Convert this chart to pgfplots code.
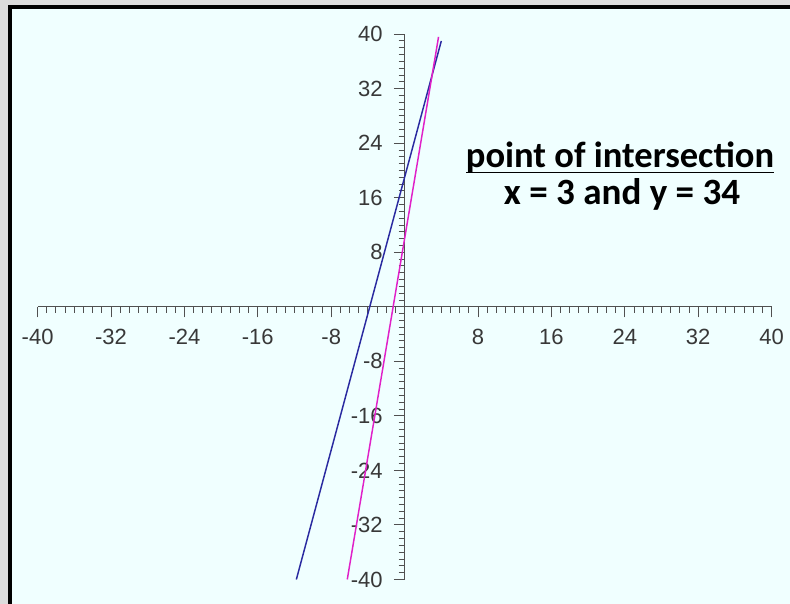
\documentclass[border=0pt]{standalone}
\usepackage{pgfplots}
\pgfplotsset{compat=1.18}
\usepackage{fontspec}
\setmainfont{Liberation Sans}
\newfontfamily\notefont{Carlito}
\definecolor{bgpanel}{HTML}{F0FFFF}
\definecolor{outer}{HTML}{DCDCDC}
\definecolor{axisgray}{HTML}{505050}
\definecolor{labelgray}{HTML}{383838}
\definecolor{lineblue}{HTML}{2A2AA0}
\definecolor{linepink}{HTML}{E020C8}

\begin{document}
\begin{tikzpicture}[x=0.75pt,y=0.75pt]
  % canvas: 790 x 604 units, origin at bottom left
  \useasboundingbox (0,0) rectangle (790,604);
  \fill[outer] (0,0) rectangle (790,604);
  \fill[black] (8,0) rectangle (790,599);
  \fill[bgpanel] (12,0) rectangle (790,595);

  \begin{axis}[
    at={(41,36)}, anchor=south west,
    scale only axis,
    width=550.5pt, height=409pt,
    xmin=-40, xmax=40, ymin=-40, ymax=40,
    enlargelimits=false,
    axis lines=middle,
    axis line style={axisgray, line width=0.9pt, -},
    xtick={-40,-32,...,40},
    ytick={-40,-32,...,40},
    xticklabels={-40,-32,-24,-16,-8,,8,16,24,32,40},
    yticklabels={-40,-32,-24,-16,-8,,8,16,24,32,40},
    minor tick num=7,
    tick style={axisgray, line width=0.7pt},
    major tick length=8pt,
    minor tick length=4.5pt,
    xtick align=outside,
    ytick align=outside,
    tick label style={font=\fontsize{16.5}{17}\selectfont, text=labelgray},
    xticklabel style={yshift=-5pt},
    yticklabel style={xshift=-5pt},
    /pgf/number format/assume math mode=true,
    clip=false,
  ]
    % y = 5x + 19
    \addplot[lineblue, line width=1.1pt] coordinates {(-11.8,-40) (4,39)};
    % y = 8x + 10
    \addplot[linepink, line width=1.1pt] coordinates {(-6.25,-40) (3.7,39.6)};
  \end{axis}

  \node[anchor=base, font=\notefont\bfseries\fontsize{27.4}{30}\selectfont, inner sep=0pt]
    (t1) at (620,436) {point of intersection};
  \fill[black] (t1.base west) ++(0,-5.5) rectangle ([yshift=-3]t1.base east);
  \node[anchor=base, font=\notefont\bfseries\fontsize{27.8}{30}\selectfont, inner sep=0pt]
    at (622,399) {x = 3 and y = 34};
\end{tikzpicture}
\end{document}
